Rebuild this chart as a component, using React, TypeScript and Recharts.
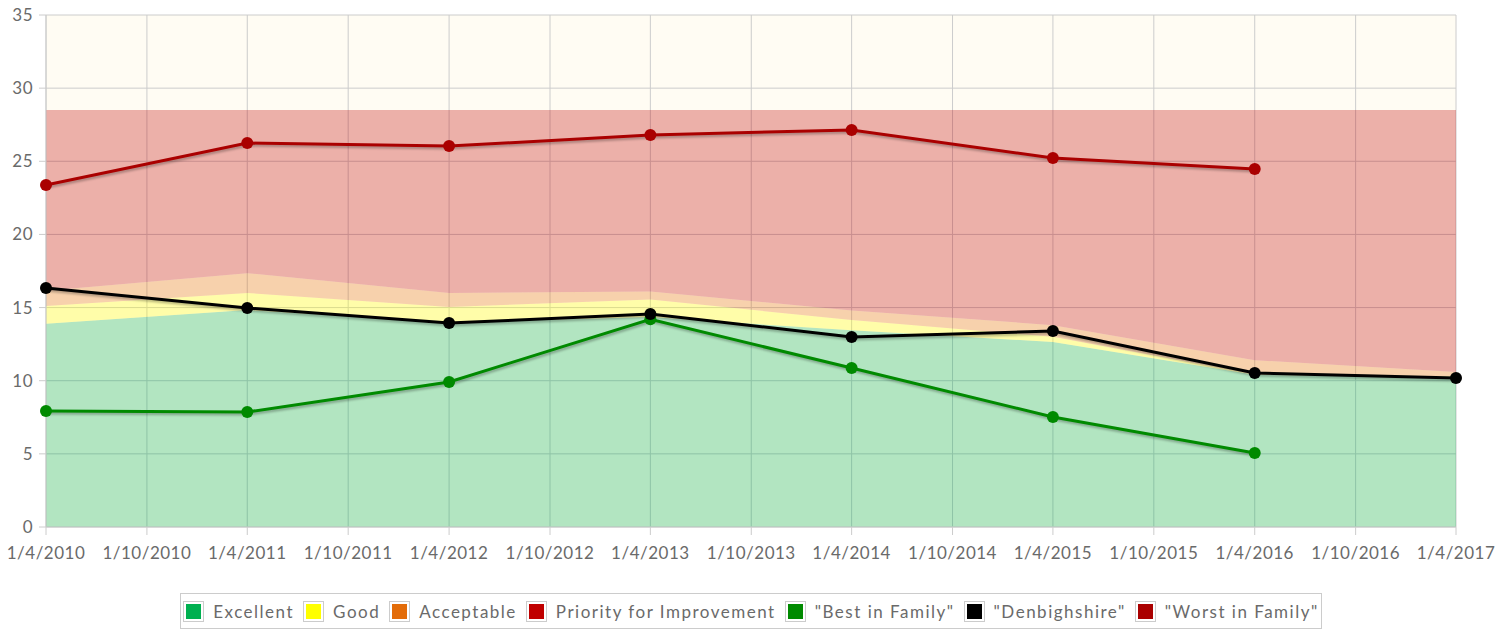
import {
  Area,
  CartesianGrid,
  ComposedChart,
  Line,
  XAxis,
  YAxis,
} from "recharts";

const DATES = [
  "2010-04-01", "2011-04-01", "2012-04-01", "2013-04-01",
  "2014-04-01", "2015-04-01", "2016-04-01", "2017-04-01",
];
const X_TICKS = [
  "2010-04-01", "2010-10-01", "2011-04-01", "2011-10-01",
  "2012-04-01", "2012-10-01", "2013-04-01", "2013-10-01",
  "2014-04-01", "2014-10-01", "2015-04-01", "2015-10-01",
  "2016-04-01", "2016-10-01", "2017-04-01",
];
const Y_TICKS = [0, 5, 10, 15, 20, 25, 30, 35];

// upper edge of each performance band
const EXCELLENT_TOP = [13.9, 14.83, 14.0, 14.35, 13.45, 12.65, 10.4, 10.25];
const GOOD_TOP = [15.1, 16.0, 15.04, 15.55, 14.15, 13.0, 10.45, 10.3];
const ACCEPTABLE_TOP = [16.15, 17.35, 16.0, 16.1, 14.8, 13.8, 11.4, 10.6];
const PRIORITY_TOP = [28.5, 28.5, 28.5, 28.5, 28.5, 28.5, 28.5, 28.5];

const BEST = [7.93, 7.86, 9.91, 14.2, 10.87, 7.52, 5.06, null];
const DENBIGHSHIRE = [16.34, 14.97, 13.94, 14.56, 12.99, 13.4, 10.53, 10.18];
const WORST = [23.38, 26.25, 26.04, 26.8, 27.14, 25.22, 24.47, null];

const LEGEND = [
  { name: "Excellent", color: "#00b050" },
  { name: "Good", color: "#ffff00" },
  { name: "Acceptable", color: "#e36c09" },
  { name: "Priority for Improvement", color: "#c00000" },
  { name: "\"Best in Family\"", color: "#008a00" },
  { name: "\"Denbighshire\"", color: "#000000" },
  { name: "\"Worst in Family\"", color: "#aa0000" },
];

const ts = (d: string) => Date.parse(d + "T00:00:00Z");

const rows = DATES.map((d, i) => ({
  t: ts(d),
  excellent: EXCELLENT_TOP[i],
  good: GOOD_TOP[i] - EXCELLENT_TOP[i],
  acceptable: ACCEPTABLE_TOP[i] - GOOD_TOP[i],
  priority: PRIORITY_TOP[i] - ACCEPTABLE_TOP[i],
  best: BEST[i],
  denb: DENBIGHSHIRE[i],
  worst: WORST[i],
}));

const fmtDate = (v: number) => {
  const d = new Date(v);
  return `${d.getUTCDate()}/${d.getUTCMonth() + 1}/${d.getUTCFullYear()}`;
};

const FONT = "Lato, 'DejaVu Sans', sans-serif";
const tickStyle = { fill: "#6a6a6a", fontSize: 17, fontFamily: FONT, letterSpacing: 0.5 };

export default function App() {
  return (
    <div style={{ position: "relative", width: 1511, height: 629 }}>
      <style>{`
        body { margin: 0; }
        .series-line path.recharts-curve { filter: drop-shadow(1px 2px 1.2px rgba(0,0,0,0.28)); }
      `}</style>
      <ComposedChart
        width={1511}
        height={629}
        data={rows}
        margin={{ top: 15, right: 55, bottom: 67, left: 0 }}
      >
        <CartesianGrid stroke="#cccccc" fill="#fffcf3" fillOpacity={1} />
        <XAxis
          dataKey="t"
          type="number"
          scale="time"
          domain={[ts(DATES[0]), ts(DATES[DATES.length - 1])]}
          ticks={X_TICKS.map(ts)}
          tickFormatter={fmtDate}
          tick={tickStyle}
          tickSize={8}
          tickMargin={12}
          height={35}
          interval={0}
          stroke="#cccccc"
        />
        <YAxis
          domain={[0, 35]}
          ticks={Y_TICKS}
          tick={tickStyle}
          tickSize={7}
          tickMargin={6}
          width={46}
          stroke="#cccccc"
          interval={0}
        />
        <Area type="linear" dataKey="excellent" stackId="b" stroke="none" fill="#00b050" fillOpacity={0.3} isAnimationActive={false} />
        <Area type="linear" dataKey="good" stackId="b" stroke="none" fill="#ffff00" fillOpacity={0.3} isAnimationActive={false} />
        <Area type="linear" dataKey="acceptable" stackId="b" stroke="none" fill="#e36c09" fillOpacity={0.3} isAnimationActive={false} />
        <Area type="linear" dataKey="priority" stackId="b" stroke="none" fill="#c00000" fillOpacity={0.3} isAnimationActive={false} />
        <Line
          className="series-line"
          type="linear"
          dataKey="best"
          stroke="#008a00"
          strokeWidth={3}
          dot={{ r: 6, fill: "#008a00", stroke: "none" }}
          isAnimationActive={false}
        />
        <Line
          className="series-line"
          type="linear"
          dataKey="denb"
          stroke="#000000"
          strokeWidth={3}
          dot={{ r: 6, fill: "#000000", stroke: "none" }}
          isAnimationActive={false}
        />
        <Line
          className="series-line"
          type="linear"
          dataKey="worst"
          stroke="#aa0000"
          strokeWidth={3}
          dot={{ r: 6, fill: "#aa0000", stroke: "none" }}
          isAnimationActive={false}
        />
      </ComposedChart>
      <div
        style={{
          position: "absolute",
          left: 180,
          top: 593,
          width: 1142,
          height: 36,
          boxSizing: "border-box",
          border: "1px solid #cccccc",
          display: "flex",
          alignItems: "center",
          justifyContent: "center",
          gap: 9,
          fontFamily: FONT,
          fontSize: 17,
          letterSpacing: 1.5,
          color: "#6a6a6a",
          background: "#ffffff",
        }}
      >
        {LEGEND.map((l) => (
          <span key={l.name} style={{ display: "flex", alignItems: "center", gap: 9 }}>
            <span
              style={{
                display: "inline-block",
                padding: 2,
                border: "1px solid #cccccc",
                lineHeight: 0,
              }}
            >
              <span style={{ display: "inline-block", width: 15, height: 15, background: l.color }} />
            </span>
            <span>{l.name}</span>
          </span>
        ))}
      </div>
    </div>
  );
}
